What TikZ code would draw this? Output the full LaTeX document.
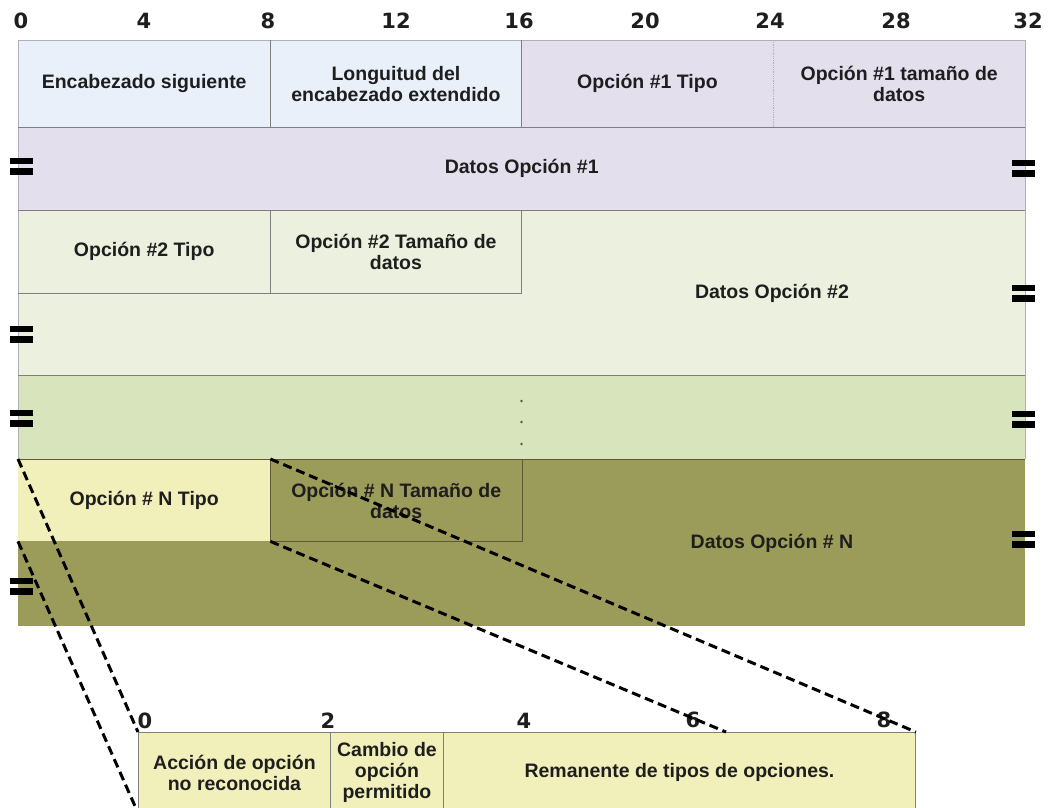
\documentclass[tikz,border=0pt]{standalone}
\usepackage{fontspec}
\setmainfont{Liberation Sans}
\newfontfamily\numfont{DejaVu Sans}
\definecolor{cblue}{HTML}{EAF0F9}
\definecolor{clav}{HTML}{E4DFEC}
\definecolor{cgreenA}{HTML}{EBF1DE}
\definecolor{cgreenB}{HTML}{D8E4BC}
\definecolor{cyel}{HTML}{F2F0BA}
\definecolor{colive}{HTML}{9C9C5A}
\definecolor{cdarkolive}{HTML}{5C5C34}
\definecolor{cline}{HTML}{7F7F7F}
\definecolor{cfaint}{HTML}{B0B0B8}
\definecolor{ctext}{HTML}{1E1E1E}
\newcommand{\lblfont}{\fontsize{19.5}{21}\selectfont\bfseries}
\newcommand{\bitfont}{\numfont\fontsize{21}{23}\selectfont\bfseries}
\tikzset{
  cell/.style={inner sep=0pt, anchor=north west, font=\lblfont, text=ctext, align=center},
  lbl/.style={inner sep=0pt, font=\lblfont, text=ctext, align=center},
  bit/.style={inner sep=0pt, font=\bitfont, text=ctext},
  gridline/.style={draw=cline, line width=0.9pt},
  faintline/.style={draw=cfaint, line width=0.8pt},
  dashline/.style={draw=black, line width=3pt, dash pattern=on 9pt off 5pt},
  eqsign/.pic={\fill[black] (-11.5,-8.5) rectangle (11.5,-2.3); \fill[black] (-11.5,2.3) rectangle (11.5,8.5);}
}
\begin{document}
\begin{tikzpicture}[x=1pt,y=-1pt]
\useasboundingbox (0,0) rectangle (1050,807);
\clip (0,0) rectangle (1050,807);
\fill[white] (0,0) rectangle (1050,807);

% bit labels (top)
\node[bit] (b0)  at (21,21)   {0};
\node[bit] (b4)  at (144,21)  {4};
\node[bit] (b8)  at (268,21)  {8};
\node[bit] (b12) at (396,21)  {12};
\node[bit] (b16) at (519,21)  {16};
\node[bit] (b20) at (645,21)  {20};
\node[bit] (b24) at (770,21)  {24};
\node[bit] (b28) at (896,21)  {28};
\node[bit] (b32) at (1028,21) {32};

% row 1
\node[cell, fill=cblue, minimum width=252pt, minimum height=87pt] (enc) at (18,40) {Encabezado siguiente};
\node[cell, fill=cblue, minimum width=251.5pt, minimum height=87pt] (lon) at (270,40) {Longuitud del\\encabezado extendido};
\node[cell, fill=clav, minimum width=251.5pt, minimum height=87pt] (o1t) at (521.5,40) {Opción \#1 Tipo};
\node[cell, fill=clav, minimum width=252pt, minimum height=87pt] (o1s) at (773,40) {Opción \#1 tamaño de\\datos};

% row 2
\node[cell, fill=clav, minimum width=1007pt, minimum height=83pt] (d1) at (18,127) {Datos Opción \#1};

% option 2
\fill[cgreenA] (18,210) rectangle (1025,375);
\node[cell, fill=cgreenA, minimum width=252pt, minimum height=83pt] (o2t) at (18,210) {Opción \#2 Tipo};
\node[cell, fill=cgreenA, minimum width=251.5pt, minimum height=83pt] (o2s) at (270,210) {Opción \#2 Tamaño de\\datos};
\node[lbl] (d2) at (772,293) {Datos Opción \#2};

% dotted row
\fill[cgreenB] (18,375) rectangle (1025,459);

% option N
\fill[colive] (18,459) rectangle (1025,626);
\node[cell, fill=cyel, minimum width=252pt, minimum height=82pt] (ont) at (18,459) {Opción \# N Tipo};
\node[cell, draw=cdarkolive, line width=0.9pt, minimum width=251.5pt, minimum height=82pt] (ons) at (270,459) {Opción \# N Tamaño de\\datos};
\node[lbl] (dN) at (772,543) {Datos Opción \# N};

% grid lines
\draw[faintline] (18,40) -- (1025,40);
\draw[faintline] (18,40) -- (18,459);
\draw[faintline] (1025,40) -- (1025,459);
\draw[gridline] (18,127) -- (1025,127);
\draw[gridline] (18,210) -- (1025,210);
\draw[gridline] (18,375) -- (1025,375);
\draw[draw=cdarkolive, line width=0.9pt] (18,459) -- (1025,459);
\draw[gridline] (270,40) -- (270,127);
\draw[gridline] (521.5,40) -- (521.5,127);
\draw[faintline, densely dotted] (773,40) -- (773,127);
\draw[gridline] (18,293) -- (521.5,293);
\draw[gridline] (270,210) -- (270,293);
\draw[gridline] (521.5,210) -- (521.5,293);
\foreach \yy in {401,422,444} \fill[cdarkolive] (521.5,\yy) circle (1.3);

% = signs
\pic at (21,166) {eqsign};
\pic at (21,334) {eqsign};
\pic at (21,418) {eqsign};
\pic at (21,586) {eqsign};
\pic at (1023,168) {eqsign};
\pic at (1023,293) {eqsign};
\pic at (1023,419) {eqsign};
\pic at (1023,539) {eqsign};

% expanded option type
\node[cell, fill=cyel, draw=cline, line width=0.9pt, minimum width=192pt, minimum height=80pt] (acc) at (138,732) {Acción de opción\\no reconocida};
\node[cell, fill=cyel, draw=cline, line width=0.9pt, minimum width=113pt, minimum height=80pt] (cam) at (330,732) {Cambio de\\opción\\permitido};
\node[cell, fill=cyel, draw=cline, line width=0.9pt, minimum width=472pt, minimum height=80pt] (rem) at (443,732) {Remanente de tipos de opciones.};

\node[bit] (s0) at (145,721) {0};
\node[bit] (s2) at (328,721) {2};
\node[bit] (s4) at (524,721) {4};
\node[bit] (s6) at (693,720) {6};
\node[bit] (s8) at (884,720) {8};

\coordinate (c6) at (726,732);

% dashed zoom lines
\draw[dashline] (ont.north west) -- (acc.north west);
\draw[dashline] (ont.south west) -- (acc.south west);
\draw[dashline] (ont.north east) -- (rem.north east);
\draw[dashline] (ont.south east) -- (c6);
\end{tikzpicture}
\end{document}
